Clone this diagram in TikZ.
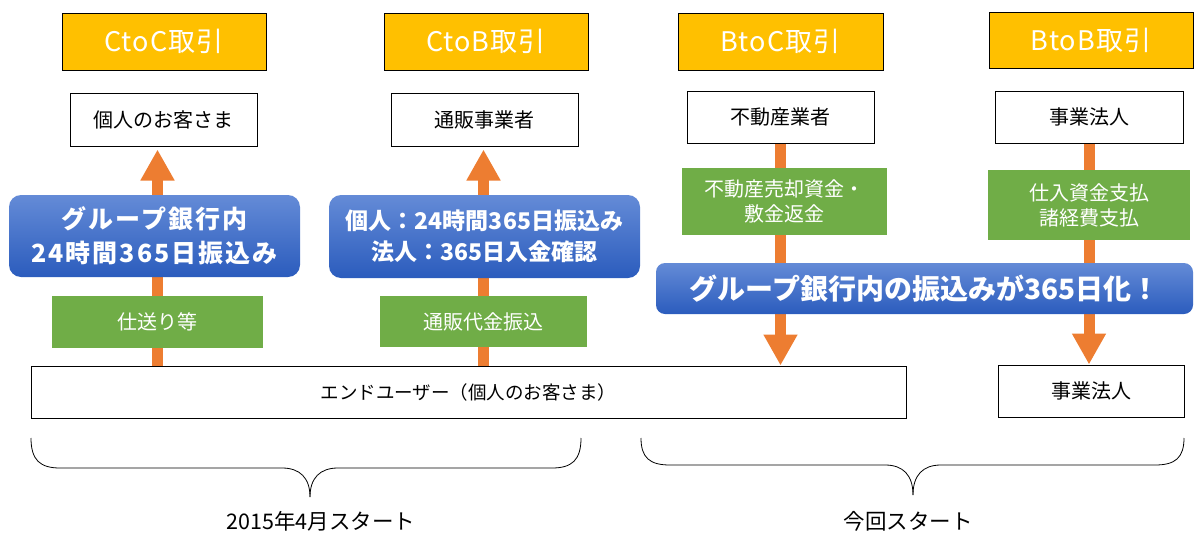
\documentclass[tikz,border=0pt]{standalone}
\usepackage{fontspec}
\setmainfont{Noto Sans CJK JP}
\usetikzlibrary{arrows.meta,backgrounds}
\definecolor{hdr}{RGB}{255,192,0}
\definecolor{arr}{RGB}{237,125,49}
\definecolor{grn}{RGB}{112,173,71}
\definecolor{bltop}{RGB}{100,139,215}
\definecolor{blbot}{RGB}{43,92,189}
\begin{document}
\begin{tikzpicture}[x=1pt,y=-1pt,
  hdrbox/.style={draw=black,line width=1pt,fill=hdr,text=white,inner sep=0pt,font=\fontsize{27}{30}\selectfont\addfontfeatures{LetterSpace=4}},
  whbox/.style={draw=black,line width=1pt,fill=white,inner sep=0pt,font=\fontsize{20}{24}\selectfont},
  grnbox/.style={fill=grn,text=white,inner sep=0pt,align=center,font=\fontsize{20}{25}\selectfont},
  blubox/.style={rounded corners=12pt,top color=bltop,bottom color=blbot,text=white,inner sep=0pt,align=center,font=\bfseries\fontsize{25}{34}\selectfont\addfontfeatures{LetterSpace=8}},
  fat/.style={draw=arr,line width=11pt,-{Triangle[width=32pt,length=31pt]}},
  brace/.style={draw=black,line width=0.8pt},
  lbl/.style={inner sep=0pt,font=\fontsize{21.5}{24}\selectfont}]
\useasboundingbox (0,0) rectangle (1195,533);

% headers
\node[hdrbox,minimum width=204pt,minimum height=57pt] (h1) at (164,41.5) {CtoC取引};
\node[hdrbox,minimum width=204pt,minimum height=57pt] (h2) at (486,41.5) {CtoB取引};
\node[hdrbox,minimum width=205pt,minimum height=57pt] (h3) at (780.5,41.5) {BtoC取引};
\node[hdrbox,minimum width=204pt,minimum height=56pt] (h4) at (1091,40) {BtoB取引};

% parties
\node[whbox,minimum width=187pt,minimum height=53pt] (p1) at (163.5,119.5) {個人のお客さま};
\node[whbox,minimum width=187pt,minimum height=53pt] (p2) at (484.5,119.5) {通販事業者};
\node[whbox,minimum width=187pt,minimum height=52pt] (p3) at (780.5,117) {不動産業者};
\node[whbox,minimum width=188pt,minimum height=52pt] (p4) at (1089,117) {事業法人};

% blue boxes
\node[blubox,minimum width=291pt,minimum height=82pt] (b1) at (154.5,236) {グループ銀行内\\24時間365日振込み};
\node[blubox,minimum width=311pt,minimum height=83pt,font=\bfseries\fontsize{23}{31}\selectfont] (b2) at (484.5,236.5) {個人：24時間365日振込み\\法人：365日入金確認};
\node[blubox,rounded corners=9pt,minimum width=537pt,minimum height=51pt,font=\bfseries\fontsize{28}{32}\selectfont] (bar) at (924.5,288.5) {グループ銀行内の振込みが365日化！};

% green boxes
\node[grnbox,minimum width=211pt,minimum height=52pt] (g1) at (157.5,322) {仕送り等};
\node[grnbox,minimum width=207pt,minimum height=51pt] (g2) at (483.5,321.5) {通販代金振込};
\node[grnbox,minimum width=205pt,minimum height=67pt] (g3) at (784.5,201.5) {不動産売却資金・\\敷金返金};
\node[grnbox,minimum width=202pt,minimum height=70pt] (g4) at (1089,205) {仕入資金支払\\諸経費支払};

% bottom boxes
\node[whbox,minimum width=875pt,minimum height=52pt,font=\fontsize{18.5}{22}\selectfont] (eu) at (468.5,392) {エンドユーザー（個人のお客さま）};
\node[whbox,minimum width=186pt,minimum height=52pt] (p5) at (1091,391) {事業法人};

% arrows (behind the boxes)
\coordinate (t1) at ([yshift=-3pt]p1.south);
\coordinate (t2) at ([yshift=-3pt]p2.south);
\begin{scope}[on background layer]
\draw[fat] (eu.north -| g1.center) -- (t1 -| g1.center);
\draw[fat] (eu.north -| g2.center) -- (t2 -| g2.center);
\draw[fat] (p3.south) -- (eu.north -| p3.south);
\draw[fat] (p4.south) -- (p5.north -| p4.south);
\end{scope}

% braces
\coordinate (k1) at (310,497);
\coordinate (k2) at (913,495);
\draw[brace] (31,438) .. controls (31,460) and (40,468) .. (60,468) -- (282,468) .. controls (300,468) and (310,478) .. (k1);
\draw[brace] (k1) .. controls (310,478) and (320,468) .. (338,468) -- (552,468) .. controls (572,468) and (581,460) .. (581,438);
\draw[brace] (641,438) .. controls (641,458) and (650,465) .. (670,465) -- (885,465) .. controls (903,465) and (913,475) .. (k2);
\draw[brace] (k2) .. controls (913,475) and (923,465) .. (941,465) -- (1155,465) .. controls (1175,465) and (1184,458) .. (1184,438);

% labels
\node[lbl] (l1) at (321,521) {2015年4月スタート};
\node[lbl] (l2) at (908,521) {今回スタート};
\end{tikzpicture}
\end{document}
